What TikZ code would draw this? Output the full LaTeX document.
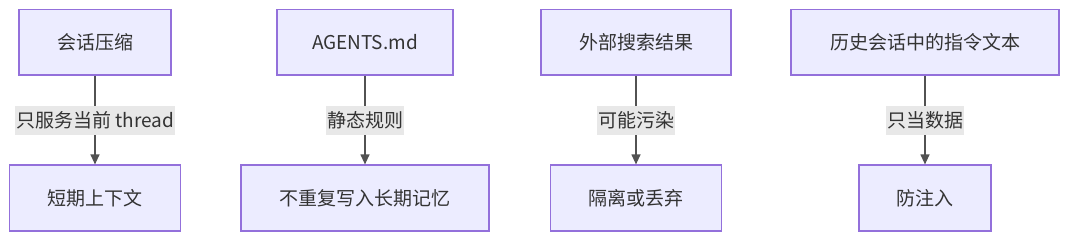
\documentclass[tikz,border=0pt]{standalone}
\usepackage{fontspec}
\setmainfont{Noto Sans CJK SC}
\usetikzlibrary{arrows.meta}
\definecolor{boxfill}{HTML}{ECECFF}
\definecolor{boxdraw}{HTML}{9370DB}
\definecolor{txt}{HTML}{333333}
\definecolor{lblbg}{HTML}{E8E8E8}
\begin{document}
\begin{tikzpicture}[x=1pt,y=-1pt,
  box/.style={draw=boxdraw,fill=boxfill,line width=1.2pt,text=txt,inner sep=0pt,font=\fontsize{19pt}{22pt}\selectfont},
  topbox/.style={box,minimum height=65.5pt},
  botbox/.style={box,minimum height=66pt},
  lbl/.style={fill=lblbg,text=txt,inner xsep=1pt,inner ysep=0pt,minimum height=29pt,font=\fontsize{19pt}{22pt}\selectfont},
  conn/.style={draw=txt!85,line width=1.2pt,-{Triangle[length=10pt,width=9pt]}}]
\useasboundingbox (0,0) rectangle (1080,244);
% top boxes
\node[topbox,minimum width=152pt] (t1) at (95,42.25) {会话压缩};
\node[topbox,minimum width=176pt] (t2) at (365,42.25) {AGENTS.md};
\node[topbox,minimum width=190pt] (t3) at (636,42.25) {外部搜索结果};
\node[topbox,minimum width=268pt] (t4) at (925,42.25) {历史会话中的指令文本};
% bottom boxes
\node[botbox,minimum width=170.5pt] (b1) at (95,198) {短期上下文};
\node[botbox,minimum width=248pt] (b2) at (365,198) {不重复写入长期记忆};
\node[botbox,minimum width=171pt] (b3) at (636,198) {隔离或丢弃};
\node[botbox,minimum width=132pt] (b4) at (925,198) {防注入};
% connectors
\draw[conn] (t1) -- (b1);
\draw[conn] (t2) -- (b2);
\draw[conn] (t3) -- (b3);
\draw[conn] (t4) -- (b4);
% labels
\node[lbl,minimum width=160pt] (l1) at (95,120.5) {只服务当前 thread};
\node[lbl,minimum width=77pt] (l2) at (365,120.5) {静态规则};
\node[lbl,minimum width=77pt] (l3) at (636,120.5) {可能污染};
\node[lbl,minimum width=77pt] (l4) at (925,120.5) {只当数据};
\end{tikzpicture}
\end{document}
